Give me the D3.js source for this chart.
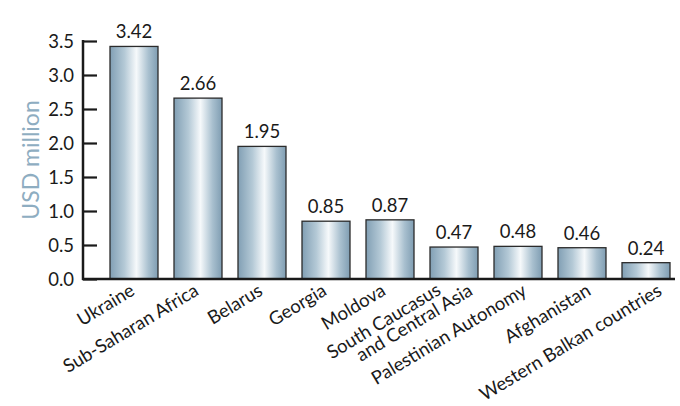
<!DOCTYPE html>
<html><head><meta charset="utf-8">
<script src="https://cdn.jsdelivr.net/npm/d3@7"></script>
<style>body{margin:0;background:#fff}svg{display:block}text{font-family:Lato,"Open Sans",sans-serif;fill:#1a1a1a}</style>
</head><body>
<svg id="c" width="680" height="406"></svg>
<script>
const categories = ["Ukraine","Sub-Saharan Africa","Belarus","Georgia","Moldova","South Caucasus|and Central Asia","Palestinian Autonomy","Afghanistan","Western Balkan countries"];
const values = [3.42,2.66,1.95,0.85,0.87,0.47,0.48,0.46,0.24];
const valueLabels = ["3.42","2.66","1.95","0.85","0.87","0.47","0.48","0.46","0.24"];
const yTicks = [0,0.5,1,1.5,2,2.5,3,3.5];
const yTitle = "USD million";

const svg = d3.select("#c");
const y = d3.scaleLinear().domain([0,3.5]).range([279,41]);
const x = d3.scaleBand().domain(categories).range([102,678]).paddingInner(0.25).paddingOuter(0.125);

const defs = svg.append("defs");
const g = defs.append("linearGradient").attr("id","bg").attr("x1","0").attr("x2","1").attr("y1","0").attr("y2","0");
g.append("stop").attr("offset","0%").attr("stop-color","#819fb4");
g.append("stop").attr("offset","30%").attr("stop-color","#b4c9d6");
g.append("stop").attr("offset","55%").attr("stop-color","#f6f9fb");
g.append("stop").attr("offset","80%").attr("stop-color","#a9c0cf");
g.append("stop").attr("offset","100%").attr("stop-color","#7f9db2");

svg.selectAll("rect.bar").data(values).join("rect").attr("class","bar")
  .attr("x",(d,i)=>x(categories[i])).attr("width",x.bandwidth())
  .attr("y",d=>y(d)).attr("height",d=>y(0)-y(d))
  .attr("fill","url(#bg)").attr("stroke","#2b2b2b").attr("stroke-width",1.3);

svg.selectAll("text.val").data(values).join("text").attr("class","val")
  .attr("x",(d,i)=>x(categories[i])+x.bandwidth()/2).attr("y",d=>y(d)-8)
  .attr("text-anchor","middle").attr("font-size",18.5).text((d,i)=>valueLabels[i]);

// y axis
const ya = svg.append("g").attr("transform","translate(83,0)")
  .call(d3.axisRight(y).tickValues(yTicks).tickSize(14).tickFormat(""));
ya.select(".domain").remove();
ya.selectAll("line").attr("stroke","#1a1a1a").attr("stroke-width",2.2);
svg.selectAll("text.yt").data(yTicks).join("text").attr("class","yt")
  .attr("x",74).attr("y",d=>y(d)).attr("dy","0.36em").attr("text-anchor","end")
  .attr("font-size",18.5).text(d=>d3.format(".1f")(d));
svg.append("line").attr("x1",83).attr("x2",83).attr("y1",y(3.5)-1).attr("y2",y(0)+1).attr("stroke","#1a1a1a").attr("stroke-width",2.5);
svg.append("line").attr("x1",82).attr("x2",675).attr("y1",y(0)).attr("y2",y(0)).attr("stroke","#1a1a1a").attr("stroke-width",2.5);

svg.append("text").attr("transform",`translate(39,${(y(0)+y(3.5))/2}) rotate(-90)`)
  .attr("text-anchor","middle").attr("font-size",23).style("fill","#8eadc1").text(yTitle);

// x labels
const xl = svg.selectAll("text.xl").data(categories).join("text").attr("class","xl")
  .attr("text-anchor","end").attr("font-size",18.5)
  .attr("transform",(d,i)=>{
    const off = d.includes("|") ? 20 : (i===8 ? 17 : (i>4 ? 10 : (i===4 ? -3 : 2)));
    return `translate(${x(d)+x.bandwidth()/2+off},${294}) rotate(-31)`;
  });
xl.each(function(d){
  const parts = d.split("|");
  const t = d3.select(this);
  if(parts.length===1){ t.text(d); }
  else {
    t.append("tspan").attr("x",-27).attr("dy","-0.92em").text(parts[0]);
    t.append("tspan").attr("x",0).attr("dy","0.92em").text(parts[1]);
  }
});
</script>
</body></html>
